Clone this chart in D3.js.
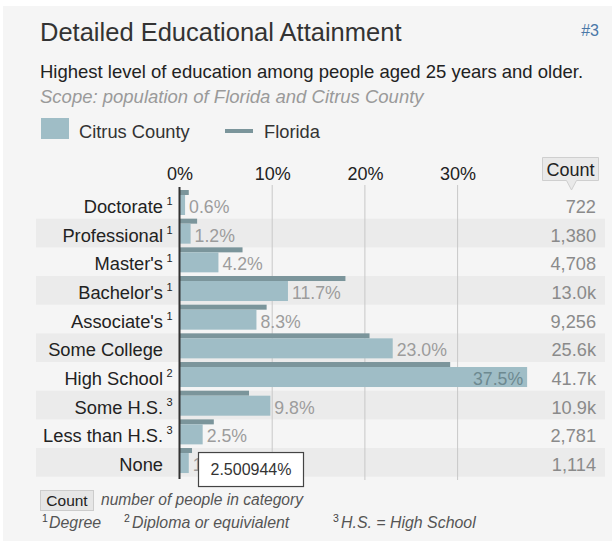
<!DOCTYPE html>
<html>
<head>
<meta charset="utf-8">
<script src="https://cdn.jsdelivr.net/npm/d3@7"></script>
<style>
  html, body { margin: 0; padding: 0; background: #ffffff; }
  svg { display: block; font-family: "Liberation Sans", Arial, Helvetica, sans-serif; }
</style>
</head>
<body>
<svg id="chart" width="612" height="541"></svg>
<script>
// Educational attainment, people aged 25+ (percent of population)
const categories = ["Doctorate", "Professional", "Master's", "Bachelor's", "Associate's",
                    "Some College", "High School", "Some H.S.", "Less than H.S.", "None"];
const footnoteMarks = ["1", "1", "1", "1", "1", "", "2", "3", "3", ""];
const citrusPct  = [0.6, 1.2, 4.2, 11.7, 8.3, 23.0, 37.5, 9.8, 2.5, 1.0];
const floridaPct = [1.0, 1.9, 6.8, 17.9, 9.4, 20.5, 29.2, 7.5, 3.7, 1.35];
const counts     = [722, 1380, 4708, 13000, 9256, 25600, 41700, 10900, 2781, 1114];
const tickValues = [0, 10, 20, 30];
const hoverValue = 2.500944;

const svg = d3.select("#chart");

// panel background
svg.append("rect").attr("x", 3).attr("y", 6).attr("width", 609).attr("height", 535).attr("fill", "#f5f5f5");

// header
svg.append("text").attr("x", 40).attr("y", 41).attr("font-size", 25.5).attr("fill", "#333")
  .text("Detailed Educational Attainment");
svg.append("text").attr("x", 599).attr("y", 36).attr("text-anchor", "end").attr("font-size", 16).attr("fill", "#4a78a8")
  .text("#3");
svg.append("text").attr("x", 40).attr("y", 78).attr("font-size", 18.5).attr("fill", "#222")
  .text("Highest level of education among people aged 25 years and older.");
svg.append("text").attr("x", 40).attr("y", 103).attr("font-size", 18.5).attr("font-style", "italic").attr("fill", "#9a9a9a")
  .text("Scope: population of Florida and Citrus County");

const citrusColor = "#9fbdc6";
const floridaColor = "#7b959b";

// legend
svg.append("rect").attr("x", 41).attr("y", 118).attr("width", 28).attr("height", 21).attr("fill", citrusColor);
svg.append("text").attr("x", 79).attr("y", 138).attr("font-size", 18.3).attr("fill", "#333").text("Citrus County");
svg.append("rect").attr("x", 225).attr("y", 129).attr("width", 28).attr("height", 4).attr("fill", floridaColor);
svg.append("text").attr("x", 264).attr("y", 138).attr("font-size", 18.3).attr("fill", "#333").text("Florida");

// scales
const rowTop = 190, rowH = 28.67;
const y = d3.scaleBand().domain(categories).range([rowTop, rowTop + rowH * categories.length]).padding(0);
const x = d3.scaleLinear().domain([0, 40]).range([179.5, 550.3]);

const rows = categories.map((c, i) => ({
  cat: c, mark: footnoteMarks[i], citrus: citrusPct[i], florida: floridaPct[i], count: counts[i], i
}));

// striped row bands
svg.append("g").selectAll("rect").data(rows.filter(d => d.i % 2 === 1)).join("rect")
  .attr("x", 36).attr("width", 569)
  .attr("y", d => y(d.cat)).attr("height", y.bandwidth())
  .attr("fill", "#ebebeb");

// gridlines
svg.append("g").selectAll("line").data(tickValues.filter(t => t > 0)).join("line")
  .attr("x1", d => x(d)).attr("x2", d => x(d))
  .attr("y1", 185).attr("y2", 480)
  .attr("stroke", "#c8c8c8").attr("stroke-width", 1);

// percent axis labels
const axis = d3.axisTop(x).tickValues(tickValues).tickFormat(d => d + "%").tickSize(0).tickPadding(0);
const axisG = svg.append("g").attr("transform", "translate(0,180)").call(axis);
axisG.select(".domain").remove();
axisG.selectAll("text").attr("font-size", 18).attr("fill", "#222")
  .attr("font-family", "\"Liberation Sans\", Arial, sans-serif").attr("dy", 0);

// Florida bars (thin, top of row)
svg.append("g").selectAll("rect").data(rows).join("rect")
  .attr("x", x(0)).attr("y", d => y(d.cat))
  .attr("width", d => x(d.florida) - x(0)).attr("height", 5)
  .attr("fill", floridaColor);

// Citrus County bars
svg.append("g").selectAll("rect").data(rows).join("rect")
  .attr("x", x(0)).attr("y", d => y(d.cat) + 5)
  .attr("width", d => x(d.citrus) - x(0)).attr("height", 20)
  .attr("fill", citrusColor);

// zero axis line
svg.append("line").attr("x1", x(0)).attr("x2", x(0)).attr("y1", 187).attr("y2", 479)
  .attr("stroke", "#333").attr("stroke-width", 2);

// value labels: outside the bar, or inside when it would run into the count column
const valG = svg.append("g");
rows.forEach(d => {
  const t = valG.append("text").attr("font-size", 17.7).attr("y", y(d.cat) + 23)
    .text(d.citrus.toFixed(1) + "%");
  const w = t.node().getComputedTextLength();
  if (x(d.citrus) + 4 + w > 540) {
    t.attr("x", x(d.citrus) - 4).attr("text-anchor", "end").attr("fill", "#6d8990");
  } else {
    t.attr("x", x(d.citrus) + 4).attr("fill", "#9c9c9c");
  }
});

// category labels with footnote marks
const labG = svg.append("g");
rows.forEach(d => {
  labG.append("text").attr("x", 163).attr("y", y(d.cat) + 23).attr("text-anchor", "end")
    .attr("font-size", 18.3).attr("fill", "#222").text(d.cat);
  if (d.mark) {
    labG.append("text").attr("x", 166.5).attr("y", y(d.cat) + 15)
      .attr("font-size", 11).attr("fill", "#222").text(d.mark);
  }
});

// counts column
const fmtCount = v => v >= 10000 ? (v / 1000).toFixed(1) + "k" : d3.format(",")(v);
svg.append("g").selectAll("text").data(rows).join("text")
  .attr("x", 596).attr("y", d => y(d.cat) + 23).attr("text-anchor", "end")
  .attr("font-size", 18.2).attr("fill", "#8a8a8a")
  .text(d => fmtCount(d.count));

// "Count" header tag with pointer
svg.append("path")
  .attr("d", "M542.5,157.5 H598.5 V180.5 H576.5 L571.5,190 L566.5,180.5 H542.5 Z")
  .attr("fill", "#e9e9e9").attr("stroke", "#cfcfcf").attr("stroke-width", 1);
svg.append("text").attr("x", 570.5).attr("y", 176).attr("text-anchor", "middle")
  .attr("font-size", 18).attr("fill", "#222").text("Count");

// footer
svg.append("rect").attr("x", 40.5).attr("y", 490.5).attr("width", 53).attr("height", 20)
  .attr("fill", "#e6e6e6").attr("stroke", "#cccccc");
svg.append("text").attr("x", 67).attr("y", 506).attr("text-anchor", "middle")
  .attr("font-size", 15.5).attr("fill", "#222").text("Count");
svg.append("text").attr("x", 101).attr("y", 505).attr("font-size", 15.6).attr("font-style", "italic")
  .attr("fill", "#555").text("number of people in category");

const notesText = [
  { mx: 42, tx: 49, mark: "1", text: "Degree" },
  { mx: 124, tx: 132, mark: "2", text: "Diploma or equivialent" },
  { mx: 333, tx: 341, mark: "3", text: "H.S. = High School" }
];
notesText.forEach(n => {
  svg.append("text").attr("x", n.mx).attr("y", 522).attr("font-size", 10.5).attr("fill", "#444").text(n.mark);
  svg.append("text").attr("x", n.tx).attr("y", 528).attr("font-size", 15.9).attr("font-style", "italic")
    .attr("fill", "#555").text(n.text);
});

// hover tooltip over the last row
const lastRow = categories[categories.length - 1];
const tipY = y(lastRow) + 4;
svg.append("rect").attr("x", 198.5).attr("y", tipY + 0.5).attr("width", 105).attr("height", 34)
  .attr("fill", "#ffffff").attr("stroke", "#444").attr("stroke-width", 1.2);
svg.append("text").attr("x", 251).attr("y", tipY + 23).attr("text-anchor", "middle")
  .attr("font-size", 16).attr("fill", "#333").text(hoverValue + "%");
</script>
</body>
</html>
